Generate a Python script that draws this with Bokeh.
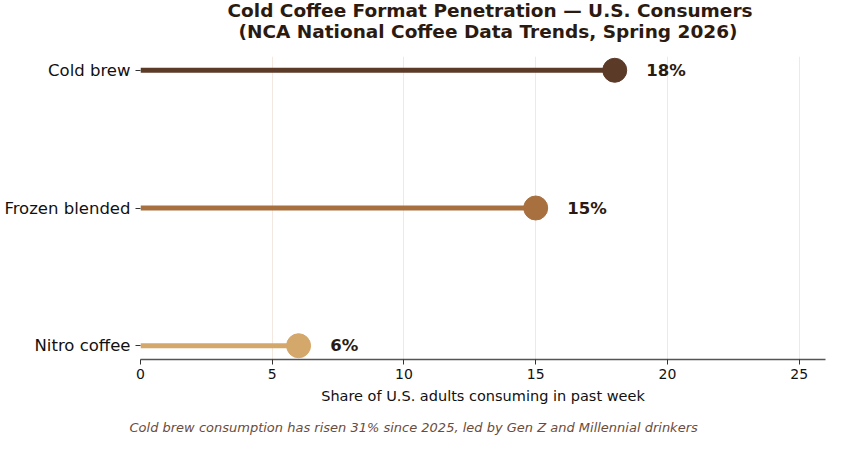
from bokeh.plotting import figure
from bokeh.models import ColumnDataSource, Range1d, FixedTicker, Title, LabelSet
from bokeh.core.properties import value
from bokeh.embed import file_html
from bokeh.resources import INLINE

categories = ["Nitro coffee", "Frozen blended", "Cold brew"]
values = [6, 15, 18]
colors = ["#d4a76a", "#a8703f", "#5c3a28"]
labels = ["6%", "15%", "18%"]
x_ticks = [0, 5, 10, 15, 20, 25]
title_lines = ["Cold Coffee Format Penetration \u2014 U.S. Consumers",
               "(NCA National Coffee Data Trends, Spring 2026)"]
footnote = "Cold brew consumption has risen 31% since 2025, led by Gen Z and Millennial drinkers"

ypos = list(range(len(categories)))
src = ColumnDataSource(dict(y=ypos, v=values, zero=[0] * len(values), c=colors,
                            lab=labels, lx=[v + 1.2 for v in values]))

p = figure(width=828, height=437, output_backend="svg", toolbar_location=None,
           x_range=Range1d(0, 26), y_range=Range1d(-0.1, 2.1),
           min_border_left=140, min_border_right=3, min_border_top=56, min_border_bottom=78)
p.title = None
FONT = "DejaVu Sans"

p.segment(x0="zero", y0="y", x1="v", y1="y", line_color="c", line_width=5, source=src)
p.scatter(x="v", y="y", size=24, fill_color="c", line_color="c", source=src)
p.add_layout(LabelSet(x="lx", y="y", text="lab", source=src, text_font=value(FONT),
                      text_font_size="16.5px", text_font_style="bold", text_color="#2b1a10",
                      text_baseline="middle", text_align="left"))

p.xgrid.grid_line_color = "#f2e8df"
p.xgrid.grid_line_width = 1
p.ygrid.grid_line_color = None
p.outline_line_color = None

p.xaxis.ticker = FixedTicker(ticks=x_ticks)
p.xaxis.axis_label = "Share of U.S. adults consuming in past week"
p.xaxis.axis_label_text_font = FONT
p.xaxis.axis_label_text_font_style = "normal"
p.xaxis.axis_label_text_font_size = "14.5px"
p.xaxis.axis_label_text_color = "#111111"
p.xaxis.axis_label_standoff = 6
p.xaxis.major_label_text_font = FONT
p.xaxis.major_label_text_font_size = "14px"
p.xaxis.major_label_text_color = "#111111"
p.xaxis.axis_line_color = "#555555"
p.xaxis.axis_line_width = 1.5
p.xaxis.major_tick_line_color = "#333333"
p.xaxis.major_tick_out = 5
p.xaxis.major_tick_in = 0
p.xaxis.minor_tick_line_color = None
p.xaxis.major_label_standoff = 4

p.yaxis.ticker = FixedTicker(ticks=ypos)
p.yaxis.major_label_overrides = {i: c for i, c in enumerate(categories)}
p.yaxis.major_label_text_font = FONT
p.yaxis.major_label_text_font_size = "16.5px"
p.yaxis.major_label_text_color = "#111111"
p.yaxis.axis_line_color = None
p.yaxis.major_tick_line_color = "#333333"
p.yaxis.major_tick_out = 5
p.yaxis.major_tick_in = 0
p.yaxis.minor_tick_line_color = None
p.yaxis.major_label_standoff = 5

# bottom: spacer then footnote
p.add_layout(Title(text=" ", text_font_size="1px", standoff=6), "below")
p.add_layout(Title(text=footnote, align="left", offset=-11, text_font=FONT,
                   text_font_size="13px", text_font_style="italic",
                   text_color="#6b4c3b", standoff=4), "below")

# top: two title lines (second line nearest the plot)
p.add_layout(Title(text=title_lines[1], align="left", offset=98, text_font=FONT,
                   text_font_size="18.5px", text_font_style="bold",
                   text_color="#2b1a10", standoff=30), "above")
p.add_layout(Title(text=title_lines[0], align="left", offset=87, text_font=FONT,
                   text_font_size="18.5px", text_font_style="bold",
                   text_color="#2b1a10", standoff=-34), "above")

open("out.html", "w").write(file_html(p, INLINE))
